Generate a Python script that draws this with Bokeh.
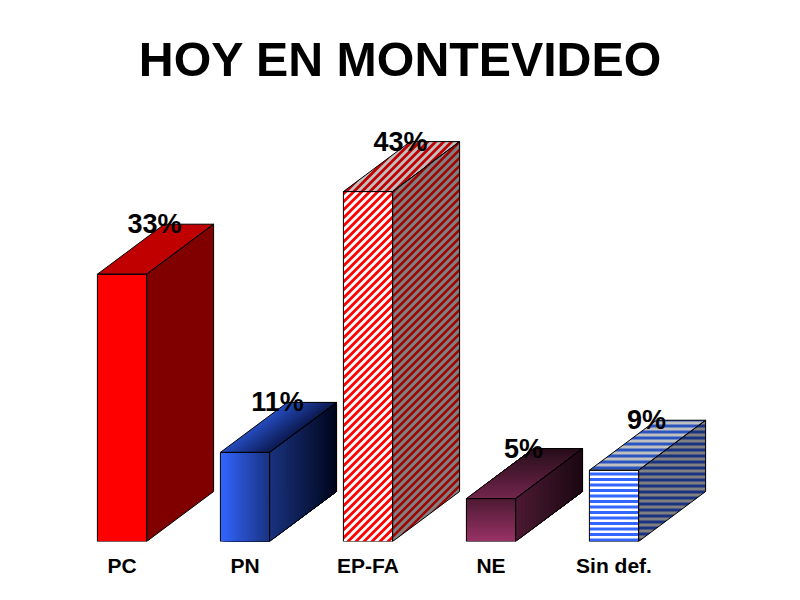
from bokeh.plotting import figure
from bokeh.models import Range1d, FixedTicker, ColumnDataSource
from bokeh.embed import file_html
from bokeh.resources import INLINE
from bokeh.core.properties import value as V

title_text = "HOY EN MONTEVIDEO"
categories = ["PC", "PN", "EP-FA", "NE", "Sin def."]
values = [33, 11, 43.2, 5.3, 8.8]
value_labels = ["33%", "11%", "43%", "5%", "9%"]

# plot scale: pixels per x unit (one category) and per percentage point
SX, SY = 123.0, 8.1
BASE_X, BASE_Y = 121.5, 541.0   # pixel position of the origin inside the frame
W, H = 784, 541
HALF = 0.2                      # half width of a bar
DX, DY = 67 / SX, 50 / SY       # depth of the 3-D box

p = figure(width=W, height=584, output_backend="svg", toolbar_location=None,
           x_range=Range1d(-BASE_X / SX, (W - BASE_X) / SX),
           y_range=Range1d(0, H / SY),
           min_border_left=0, min_border_right=0, min_border_top=0, min_border_bottom=43,
           outline_line_color=None, background_fill_color="white", border_fill_color="white")
p.grid.visible = False
p.yaxis.visible = False
ax = p.xaxis[0]
ax.ticker = FixedTicker(ticks=list(range(len(categories))))
ax.major_label_overrides = {i: c for i, c in enumerate(categories)}
ax.axis_line_color = None
ax.major_tick_line_color = None
ax.minor_tick_line_color = None
ax.major_label_standoff = 6
ax.major_label_text_font = "Liberation Sans"
ax.major_label_text_font_style = "bold"
ax.major_label_text_font_size = "21px"
ax.major_label_text_color = "black"


def faces(i, v):
    l, r = i - HALF, i + HALF
    front = [(l, 0), (r, 0), (r, v), (l, v)]
    top = [(l, v), (r, v), (r + DX, v + DY), (l + DX, v + DY)]
    side = [(r, 0), (r + DX, DY), (r + DX, v + DY), (r, v)]
    return front, top, side


def fill(poly, color):
    p.patch([a for a, _ in poly], [b for _, b in poly], fill_color=color, line_color=None)


def outline(poly):
    xs = [a for a, _ in poly] + [poly[0][0]]
    ys = [b for _, b in poly] + [poly[0][1]]
    p.line(xs, ys, line_color="black", line_width=1)


def clip_half(poly, fn):
    out = []
    n = len(poly)
    for k in range(n):
        a, b = poly[k], poly[(k + 1) % n]
        fa, fb = fn(a), fn(b)
        if fa >= 0:
            out.append(a)
        if (fa >= 0) != (fb >= 0):
            t = fa / (fa - fb)
            out.append((a[0] + t * (b[0] - a[0]), a[1] + t * (b[1] - a[1])))
    return out


def stripes(poly, color, u, period, thick, phase=0.0):
    us = [u(q) for q in poly]
    xs, ys = [], []
    k = int((min(us) - phase) // period) - 1
    while phase + k * period < max(us):
        a = phase + k * period
        b = a + thick
        c = clip_half(poly, lambda q: u(q) - a)
        if c:
            c = clip_half(c, lambda q: b - u(q))
        if len(c) >= 3:
            xs.append([q[0] for q in c])
            ys.append([q[1] for q in c])
        k += 1
    p.patches(xs, ys, fill_color=color, line_color=None)


def mix(c1, c2, t):
    return "#%02x%02x%02x" % tuple(round(a + (b - a) * t) for a, b in zip(c1, c2))


def lerp(a, b, t):
    return (a[0] + (b[0] - a[0]) * t, a[1] + (b[1] - a[1]) * t)


def gradient(poly, c1, c2, axis):
    # painter's algorithm: every slice reaches the far edge, so no seams show
    a, b, c, d = poly
    n = 48
    for k in range(n):
        t0 = k / n
        if axis == 0:
            q = [lerp(a, b, t0), b, c, lerp(d, c, t0)]
        else:
            q = [lerp(a, d, t0), lerp(b, c, t0), c, d]
        col = mix(c1, c2, (k + .5) / n)
        p.patch([e[0] for e in q], [e[1] for e in q], fill_color=col, line_color=None)


def diag(q):
    return q[0] * SX - q[1] * SY


def horiz(q):
    return q[1] * SY


# PC
f, t, s = faces(0, values[0])
fill(f, "#ff0000"); fill(t, "#c00000"); fill(s, "#800000")

# PN
f, t, s = faces(1, values[1])
gradient(f, (51, 102, 255), (26, 51, 128), 0)
gradient(t, (38, 77, 191), (13, 26, 80), 0)
gradient(s, (26, 51, 128), (0, 5, 26), 0)

# EP-FA
f, t, s = faces(2, values[2])
fill(f, "#ffffff"); stripes(f, "#ff0000", diag, 8.0, 4.0)
fill(t, "#c0c0c0"); stripes(t, "#c00000", diag, 8.0, 4.0)
fill(s, "#808080"); stripes(s, "#a00000", diag, 8.0, 3.5)

# NE
f, t, s = faces(3, values[3])
gradient(f, (153, 51, 102), (77, 26, 51), 1)
gradient(t, (115, 38, 77), (38, 13, 26), 1)
gradient(s, (77, 26, 51), (26, 8, 18), 0)

# Sin def.
f, t, s = faces(4, values[4])
fill(f, "#ffffff"); stripes(f, "#3366ff", horiz, 5.5, 3.0)
fill(t, "#c0c0c0"); stripes(t, "#2a55c0", horiz, 6.0, 3.0)
fill(s, "#808080"); stripes(s, "#1a3380", horiz, 6.0, 3.0)

for i, v in enumerate(values):
    for poly in faces(i, v):
        outline(poly)

src = ColumnDataSource(dict(
    x=[i + DX / 2 - 1 / SX for i in range(len(categories))],
    y=[v + DY for v in values],
    text=value_labels))
p.text("x", "y", "text", source=src, text_font=V("Liberation Sans"), text_font_style="bold",
       text_font_size="27px", text_color="black", text_align="center", text_baseline="middle")

p.text([(400 - BASE_X) / SX], [(BASE_Y - 58.5) / SY], [title_text], text_font=V("Liberation Sans"),
       text_font_style="bold", text_font_size="48.3px", text_color="black",
       text_align="center", text_baseline="middle")

open("out.html", "w").write(file_html(p, INLINE))
